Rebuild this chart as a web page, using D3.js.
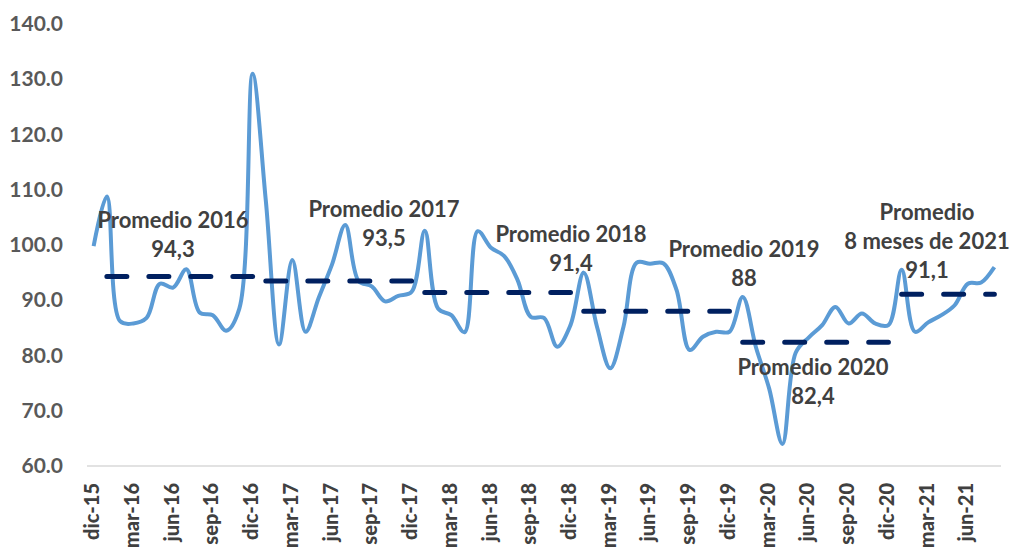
<!DOCTYPE html>
<html>
<head>
<meta charset="utf-8">
<script src="https://cdn.jsdelivr.net/npm/d3@7"></script>
<style>
  body { margin: 0; background: #fff; }
  svg { display: block; }
  text { font-family: Lato, "Open Sans", sans-serif; }
</style>
</head>
<body>
<svg id="graph"></svg>
<script>
// month labels, dic-15 .. ago-21
var monthNames = ['ene','feb','mar','abr','may','jun','jul','ago','sep','oct','nov','dic']
var months = ['dic-15']
for (var yr = 16; yr <= 21; yr++) {
  monthNames.forEach(function(m, k) {
    if (yr == 21 && k > 7) return
    months.push(m + '-' + yr)
  })
}

// monthly index values
var values = [
  99.8,
  108.8, 86.2, 85.8, 86.8, 93.0, 92.3, 95.6, 87.8, 87.3, 84.5, 88.5, 131.0,
  108.0, 82.0, 97.3, 84.3, 90.5, 96.5, 103.6, 93.5, 92.5, 89.8, 90.8, 91.5,
  102.6, 88.5, 87.3, 84.2, 102.5, 99.5, 98.0, 93.7, 87.0, 86.8, 81.6, 85.5,
  95.0, 85.2, 77.7, 85.2, 96.8, 96.6, 96.7, 91.9, 81.0, 83.4, 84.3, 84.3,
  90.6, 81.5, 74.0, 64.0, 80.5, 83.3, 85.5, 88.8, 85.8, 87.6, 85.8, 85.5,
  95.5, 84.3, 86.0, 87.3, 89.1, 93.0, 93.2, 96.0
]

// yearly averages (dashed lines)
var avgYears = ['16', '17', '18', '19', '20', '21']
var avgValues = [94.3, 93.5, 91.4, 88, 82.4, 91.1]
var avgText = ['94,3', '93,5', '91,4', '88', '82,4', '91,1']
var avgTitle = [['Promedio 2016'], ['Promedio 2017'], ['Promedio 2018'], ['Promedio 2019'],
  ['Promedio 2020'], ['Promedio', '8 meses de 2021']]

var yTicks = [60, 70, 80, 90, 100, 110, 120, 130, 140]

// where the annotation blocks sit (center x, first baseline y)
var labelPos = [[173, 228], [384, 217], [571, 242], [744, 257], [813, 375], [927, 220]]

var svg = d3.select('#graph')
  .attr('width', 1010)
  .attr('height', 548)

var plot = { left: 87, right: 1001, top: 24, bottom: 466 }

var x = d3.scalePoint().domain(months).range([plot.left, plot.right]).padding(0.5)
var y = d3.scaleLinear().domain([60, 140]).range([plot.bottom, plot.top])

// y axis labels
var yaxis = svg.append('g')
  .attr('transform', 'translate(' + plot.left + ',0)')
  .call(d3.axisLeft(y).tickValues(yTicks).tickSize(0).tickPadding(24).tickFormat(d3.format('.1f')))
yaxis.select('.domain').remove()
yaxis.selectAll('text')
  .style('font-size', '21px')
  .style('font-weight', 'bold')
  .attr('fill', '#595959')

// x axis
var xaxis = svg.append('g')
  .attr('transform', 'translate(0,' + plot.bottom + ')')
  .call(d3.axisBottom(x).tickValues(months.filter(function(d, i) { return i % 3 == 0 })).tickSize(0))
xaxis.select('.domain')
  .attr('stroke', '#d9d9d9')
  .attr('stroke-width', 1.5)
  .attr('d', 'M' + plot.left + ',0H' + plot.right)
xaxis.selectAll('text')
  .attr('transform', 'rotate(-90)')
  .attr('x', -17)
  .attr('y', -2)
  .attr('dy', '0.35em')
  .style('text-anchor', 'end')
  .style('font-size', '20px')
  .style('font-weight', 900)
  .attr('fill', '#404040')

// main line
var line = d3.line()
  .x(function(d, i) { return x(months[i]) })
  .y(function(d) { return y(d) })
  .curve(d3.curveCatmullRom.alpha(0.5))

svg.append('path')
  .datum(values)
  .attr('fill', 'none')
  .attr('stroke', '#5b9bd5')
  .attr('stroke-width', 4)
  .attr('d', line)

// dashed yearly averages
avgYears.forEach(function(yr, k) {
  var ms = months.filter(function(m) { return m.slice(-2) == yr })
  svg.append('line')
    .attr('x1', x(ms[0]))
    .attr('x2', x(ms[ms.length - 1]))
    .attr('y1', y(avgValues[k]))
    .attr('y2', y(avgValues[k]))
    .attr('stroke', '#002060')
    .attr('stroke-width', 5)
    .attr('stroke-dasharray', '20,22')
    .attr('stroke-linecap', 'round')
})

// annotations
avgTitle.forEach(function(lines, k) {
  var t = svg.append('text')
    .attr('text-anchor', 'middle')
    .attr('fill', '#404040')
    .style('font-size', '22px')
    .style('font-weight', 'bold')
  lines.concat([avgText[k]]).forEach(function(s, j) {
    t.append('tspan')
      .attr('x', labelPos[k][0])
      .attr('y', labelPos[k][1] + j * 29)
      .text(s)
  })
})
</script>
</body>
</html>
